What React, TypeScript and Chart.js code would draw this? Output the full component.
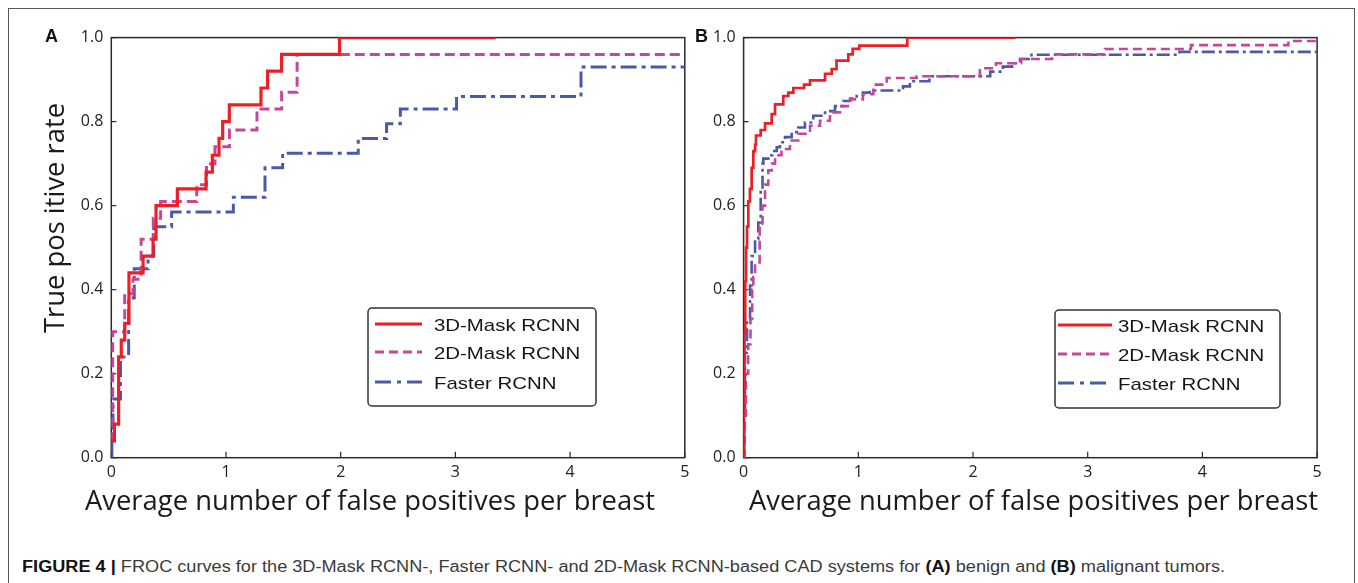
import React, { useEffect, useLayoutEffect, useRef } from "react";
import { Chart, registerables } from "chart.js";

Chart.register(...registerables);

// ---------- data ----------
const seriesNames = ["3D-Mask RCNN", "2D-Mask RCNN", "Faster RCNN"];
const xTickValues = [0, 1, 2, 3, 4, 5];
const yTickValues = [0, 0.2, 0.4, 0.6, 0.8, 1.0];

// Panel A (benign)
const aX3d = [0.005, 0.027, 0.064, 0.087, 0.117, 0.154, 0.277, 0.364, 0.39, 0.576, 0.826, 0.881, 0.939, 0.971, 1.029, 1.305, 1.363, 1.485, 1.99, 3.35];
const aY3d = [0.04, 0.08, 0.24, 0.28, 0.32, 0.44, 0.48, 0.52, 0.6, 0.64, 0.68, 0.72, 0.76, 0.8, 0.84, 0.88, 0.92, 0.96, 1.0, 1.0];
const aX2d = [0.0, 0.012, 0.117, 0.19, 0.26, 0.366, 0.43, 0.745, 0.83, 0.904, 1.03, 1.27, 1.485, 1.62, 5.0];
const aY2d = [0.04, 0.3, 0.39, 0.425, 0.52, 0.57, 0.61, 0.65, 0.7, 0.74, 0.78, 0.83, 0.87, 0.96, 0.96];
const aXfr = [0.0, 0.005, 0.015, 0.08, 0.151, 0.2, 0.32, 0.37, 0.526, 1.064, 1.34, 1.494, 2.153, 2.4, 2.52, 3.01, 4.095, 5.0];
const aYfr = [0.0, 0.065, 0.14, 0.24, 0.38, 0.45, 0.48, 0.55, 0.585, 0.62, 0.69, 0.725, 0.76, 0.795, 0.83, 0.86, 0.93, 0.93];

// Panel B (malignant)
const bX3d = [0.0, 0.003, 0.008, 0.014, 0.021, 0.03, 0.041, 0.055, 0.07, 0.085, 0.1, 0.108, 0.149, 0.187, 0.245, 0.274, 0.346, 0.39, 0.434, 0.527, 0.579, 0.71, 0.768, 0.81, 0.913, 0.951, 1.009, 1.427, 2.37];
const bY3d = [0.0, 0.15, 0.3, 0.42, 0.5, 0.55, 0.61, 0.64, 0.69, 0.73, 0.745, 0.767, 0.78, 0.796, 0.818, 0.841, 0.861, 0.869, 0.88, 0.888, 0.898, 0.914, 0.925, 0.945, 0.96, 0.973, 0.981, 1.0, 1.0];
const bX2d = [0.0, 0.01, 0.02, 0.04, 0.06, 0.075, 0.085, 0.1, 0.14, 0.165, 0.187, 0.215, 0.245, 0.274, 0.33, 0.404, 0.477, 0.579, 0.666, 0.753, 0.84, 0.927, 1.04, 1.131, 1.248, 1.509, 2.06, 2.2, 2.42, 2.69, 3.15, 3.9, 4.75, 5.0];
const bY2d = [0.0, 0.1, 0.2, 0.27, 0.33, 0.4, 0.43, 0.465, 0.55, 0.6, 0.65, 0.684, 0.7, 0.72, 0.735, 0.755, 0.771, 0.79, 0.802, 0.822, 0.837, 0.853, 0.865, 0.888, 0.904, 0.908, 0.927, 0.939, 0.949, 0.96, 0.973, 0.982, 0.992, 0.992];
const bXfr = [0.0, 0.005, 0.012, 0.03, 0.056, 0.07, 0.1, 0.128, 0.149, 0.165, 0.172, 0.215, 0.25, 0.289, 0.317, 0.361, 0.419, 0.477, 0.535, 0.608, 0.71, 0.797, 0.87, 0.93, 0.986, 1.04, 1.1, 1.39, 1.45, 1.62, 2.15, 2.26, 2.34, 2.41, 2.51, 3.8, 5.0];
const bYfr = [0.0, 0.1, 0.25, 0.33, 0.41, 0.48, 0.52, 0.56, 0.64, 0.7, 0.712, 0.72, 0.73, 0.739, 0.751, 0.763, 0.775, 0.786, 0.798, 0.814, 0.825, 0.837, 0.849, 0.855, 0.861, 0.869, 0.874, 0.884, 0.896, 0.908, 0.919, 0.931, 0.939, 0.949, 0.959, 0.966, 0.966];

// ---------- styles ----------
const colors = ["#ED1F26", "#C5479C", "#4A5AA9"];
const legendDash = [[], [9, 5], [16, 6, 4, 6]];
const tickFont = "'Open Sans', 'Noto Sans', sans-serif";
const arialFont = "'Liberation Sans', Arial, sans-serif";

type PanelSpec = {
  left: number; top: number; width: number; height: number;
  yAxisWidth: number; xAxisHeight: number; padTop: number; padRight: number;
  lineWidths: number[]; dashes: number[][];
  xs: number[][]; ys: number[][];
  letter: string; letterX: number; letterY: number;
  yTitle?: { cx: number; base: number; len: number };
  xTitle: { cx: number; base: number; len: number };
  legend: { x: number; y: number; w: number; h: number; rowsY: number[]; lineX0: number; lineX1: number; textX: number };
};

function fitText(ctx: CanvasRenderingContext2D, text: string, x: number, y: number, len: number, rotate: boolean) {
  const w = ctx.measureText(text).width;
  ctx.save();
  ctx.translate(x, y);
  if (rotate) ctx.rotate(-Math.PI / 2);
  ctx.scale(len / w, 1);
  ctx.textAlign = "center";
  ctx.textBaseline = "alphabetic";
  ctx.fillText(text, 0, 0);
  ctx.restore();
}

function makeDecor(spec: PanelSpec) {
  return {
    id: "frocDecor" + spec.letter,
    beforeDatasetsDraw(chart: any) {
      const { ctx, chartArea: a, scales } = chart;
      ctx.save();
      ctx.strokeStyle = "#2a2a2a";
      ctx.lineWidth = 1.5;
      ctx.strokeRect(a.left, a.top, a.right - a.left, a.bottom - a.top);
      ctx.lineWidth = 1.2;
      xTickValues.forEach((v) => {
        const px = scales.x.getPixelForValue(v);
        ctx.beginPath();
        ctx.moveTo(px, a.bottom);
        ctx.lineTo(px, a.bottom - 6);
        ctx.stroke();
      });
      yTickValues.forEach((v) => {
        const py = scales.y.getPixelForValue(v);
        ctx.beginPath();
        ctx.moveTo(a.left, py);
        ctx.lineTo(a.left + 5, py);
        ctx.stroke();
      });
      ctx.restore();
    },
    afterDatasetsDraw(chart: any) {
      const { ctx } = chart;
      const L = spec.legend;
      ctx.save();
      ctx.fillStyle = "#ffffff";
      ctx.strokeStyle = "#333333";
      ctx.lineWidth = 1.5;
      ctx.beginPath();
      (ctx as any).roundRect(L.x, L.y, L.w, L.h, 4);
      ctx.fill();
      ctx.stroke();
      chart.data.datasets.forEach((ds: any, i: number) => {
        const y = L.rowsY[i];
        ctx.save();
        ctx.strokeStyle = ds.borderColor;
        ctx.lineWidth = 3;
        ctx.setLineDash(legendDash[i]);
        ctx.beginPath();
        ctx.moveTo(L.lineX0, y - 2);
        ctx.lineTo(L.lineX1, y - 2);
        ctx.stroke();
        ctx.restore();
        ctx.save();
        ctx.fillStyle = "#151515";
        ctx.font = `17px ${arialFont}`;
        ctx.textBaseline = "middle";
        ctx.textAlign = "left";
        ctx.translate(L.textX, y);
        ctx.scale(1.2, 1);
        ctx.fillText(ds.label, 0, 0);
        ctx.restore();
      });
      ctx.restore();
    },
    afterDraw(chart: any) {
      const { ctx } = chart;
      ctx.save();
      ctx.fillStyle = "#1a1a1a";
      ctx.font = `28px ${tickFont}`;
      fitText(ctx, "Average number of false positives per breast", spec.xTitle.cx, spec.xTitle.base, spec.xTitle.len, false);
      if (spec.yTitle) {
        fitText(ctx, "True pos itive rate", spec.yTitle.base, spec.yTitle.cx, spec.yTitle.len, true);
      }
      ctx.font = `bold 18px ${arialFont}`;
      ctx.textAlign = "left";
      ctx.textBaseline = "alphabetic";
      ctx.fillStyle = "#111";
      ctx.fillText(spec.letter, spec.letterX, spec.letterY);
      ctx.restore();
    },
  };
}

function Panel({ spec }: { spec: PanelSpec }) {
  const ref = useRef<HTMLCanvasElement>(null);
  useEffect(() => {
    if (!ref.current) return;
    const datasets = seriesNames.map((name, i) => ({
      label: name,
      data: spec.xs[i].map((x, j) => ({ x, y: spec.ys[i][j] })),
      borderColor: colors[i],
      backgroundColor: colors[i],
      borderWidth: spec.lineWidths[i],
      borderDash: spec.dashes[i],
      stepped: "before" as const,
      pointRadius: 0,
      fill: false,
    }));
    const chart = new Chart(ref.current, {
      type: "line",
      data: { datasets },
      options: {
        animation: false,
        responsive: false,
        layout: { padding: { top: spec.padTop, right: spec.padRight, left: 0, bottom: 0 } },
        plugins: { legend: { display: false }, tooltip: { enabled: false } },
        scales: {
          x: {
            type: "linear",
            min: 0,
            max: 5,
            grid: { display: false, drawTicks: false },
            border: { display: false },
            ticks: { stepSize: 1, padding: 5, color: "#222", font: { family: tickFont, size: 16 }, maxRotation: 0 },
            afterFit: (s: any) => { s.height = spec.xAxisHeight; },
          },
          y: {
            type: "linear",
            min: 0,
            max: 1,
            grid: { display: false, drawTicks: false },
            border: { display: false },
            ticks: {
              stepSize: 0.2,
              padding: 8,
              color: "#222",
              font: { family: tickFont, size: 16 },
              callback: (v: any) => Number(v).toFixed(1),
            },
            afterFit: (s: any) => { s.width = spec.yAxisWidth; },
          },
        },
      } as any,
      plugins: [makeDecor(spec)],
    });
    return () => chart.destroy();
  }, []);
  return (
    <canvas
      ref={ref}
      width={spec.width}
      height={spec.height}
      style={{ position: "absolute", left: spec.left, top: spec.top, width: spec.width, height: spec.height }}
    />
  );
}

const panelA: PanelSpec = {
  left: 20, top: 20, width: 680, height: 510,
  yAxisWidth: 91.3, xAxisHeight: 72.3, padTop: 12.2, padRight: 15.2,
  lineWidths: [3.2, 3, 3], dashes: [[], [10, 5], [16, 5, 4, 5]],
  xs: [aX3d, aX2d, aXfr], ys: [aY3d, aY2d, aYfr],
  letter: "A", letterX: 25, letterY: 22,
  yTitle: { cx: 198, base: 44, len: 230 },
  xTitle: { cx: 350, base: 490, len: 570 },
  legend: { x: 348, y: 288, w: 228, h: 98, rowsY: [306, 334, 364], lineX0: 355, lineX1: 402, textX: 414 },
};

const panelB: PanelSpec = {
  left: 660, top: 20, width: 675, height: 510,
  yAxisWidth: 83.6, xAxisHeight: 72.3, padTop: 12.2, padRight: 17.9,
  lineWidths: [2.7, 2.6, 2.6], dashes: [[], [9, 5], [13, 4, 3, 4]],
  xs: [bX3d, bX2d, bXfr], ys: [bY3d, bY2d, bYfr],
  letter: "B", letterX: 35, letterY: 22,
  xTitle: { cx: 373.5, base: 490, len: 569 },
  legend: { x: 395, y: 290, w: 225, h: 98, rowsY: [307, 336, 365], lineX0: 398, lineX1: 452, textX: 458 },
};

function Caption() {
  const ref = useRef<HTMLDivElement>(null);
  useLayoutEffect(() => {
    const el = ref.current;
    if (!el) return;
    el.style.transform = "none";
    const w = el.getBoundingClientRect().width;
    if (w > 0) el.style.transform = `scaleX(${1203 / w})`;
  }, []);
  return (
    <div
      ref={ref}
      style={{
        position: "absolute", left: 22, top: 558, whiteSpace: "nowrap", display: "inline-block",
        transformOrigin: "0 0", font: `16px ${arialFont}`, color: "#3a3a3a", lineHeight: "18px",
      }}
    >
      <b style={{ color: "#111" }}>FIGURE 4 |</b> FROC curves for the 3D-Mask RCNN-, Faster RCNN- and 2D-Mask RCNN-based CAD systems for{" "}
      <b style={{ color: "#111" }}>(A)</b> benign and <b style={{ color: "#111" }}>(B)</b> malignant tumors.
    </div>
  );
}

export default function App() {
  return (
    <div style={{ position: "absolute", left: 0, top: 0, width: 1358, height: 583, background: "#fff", overflow: "hidden" }}>
      <div style={{ position: "absolute", left: 8, top: 8, width: 1347, height: 640, border: "1px solid #555", boxSizing: "border-box" }} />
      <Panel spec={panelA} />
      <Panel spec={panelB} />
      <Caption />
    </div>
  );
}
